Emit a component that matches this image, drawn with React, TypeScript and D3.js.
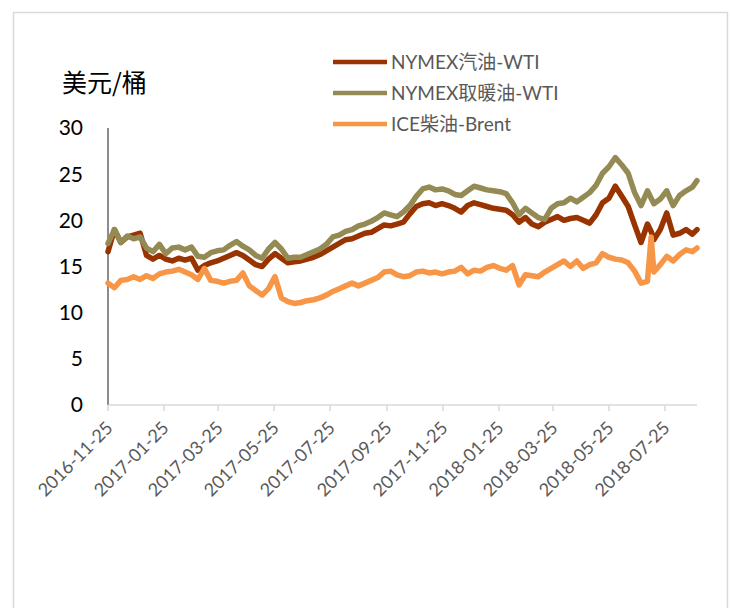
import React from 'react';
import * as d3 from 'd3';

const width = 730;
const height = 608;
const margin = { top: 128, right: 33, bottom: 203, left: 108 };

const dates = [
  '2016-11-25', '2016-12-02', '2016-12-09', '2016-12-16', '2016-12-23', '2016-12-30',
  '2017-01-06', '2017-01-13', '2017-01-20', '2017-01-27', '2017-02-03', '2017-02-10',
  '2017-02-17', '2017-02-24', '2017-03-03', '2017-03-10', '2017-03-17', '2017-03-24',
  '2017-03-31', '2017-04-07', '2017-04-14', '2017-04-21', '2017-04-28', '2017-05-05',
  '2017-05-12', '2017-05-19', '2017-05-26', '2017-06-02', '2017-06-09', '2017-06-16',
  '2017-06-23', '2017-06-30', '2017-07-07', '2017-07-14', '2017-07-21', '2017-07-28',
  '2017-08-04', '2017-08-11', '2017-08-18', '2017-08-25', '2017-09-01', '2017-09-08',
  '2017-09-15', '2017-09-22', '2017-09-29', '2017-10-06', '2017-10-13', '2017-10-20',
  '2017-10-27', '2017-11-03', '2017-11-10', '2017-11-17', '2017-11-24', '2017-12-01',
  '2017-12-08', '2017-12-15', '2017-12-22', '2017-12-29', '2018-01-05', '2018-01-12',
  '2018-01-19', '2018-01-26', '2018-02-02', '2018-02-09', '2018-02-16', '2018-02-23',
  '2018-03-02', '2018-03-09', '2018-03-16', '2018-03-23', '2018-03-30', '2018-04-06',
  '2018-04-13', '2018-04-20', '2018-04-27', '2018-05-04', '2018-05-11', '2018-05-18',
  '2018-05-25', '2018-06-01', '2018-06-08', '2018-06-15', '2018-06-22', '2018-06-29',
  '2018-07-06', '2018-07-10', '2018-07-13', '2018-07-20', '2018-07-27', '2018-08-03',
  '2018-08-10', '2018-08-17', '2018-08-24', '2018-08-29',
];

// NYMEX汽油-WTI
const gasoline = [
  16.6, 19.0, 17.6, 18.2, 18.4, 18.6, 16.2, 15.8, 16.2, 15.8, 15.6, 15.9,
  15.7, 15.9, 14.6, 15.1, 15.4, 15.6, 15.9, 16.2, 16.5, 16.2, 15.7, 15.2,
  15.0, 15.8, 16.4, 15.9, 15.4, 15.5, 15.6, 15.8, 16.0, 16.3, 16.7, 17.1,
  17.5, 17.9, 18.0, 18.3, 18.6, 18.7, 19.1, 19.5, 19.4, 19.6, 19.8, 20.7,
  21.5, 21.8, 21.9, 21.6, 21.8, 21.6, 21.3, 20.9, 21.6, 21.9, 21.7, 21.5,
  21.3, 21.2, 21.1, 20.6, 19.8, 20.3, 19.6, 19.3, 19.8, 20.1, 20.4, 20.0,
  20.2, 20.3, 20.0, 19.7, 20.6, 21.9, 22.4, 23.7, 22.6, 21.5, 19.5, 17.6,
  19.6, 18.8, 17.9, 19.0, 20.8, 18.4, 18.6, 19.0, 18.5, 19.0,
];

// NYMEX取暖油-WTI
const heatingOil = [
  17.5, 19.0, 17.6, 18.3, 18.0, 18.2, 17.0, 16.6, 17.4, 16.4, 17.0, 17.1,
  16.8, 17.1, 16.1, 16.0, 16.5, 16.7, 16.8, 17.3, 17.7, 17.2, 16.8, 16.2,
  15.9, 16.9, 17.6, 16.9, 15.9, 16.0, 16.0, 16.3, 16.6, 16.9, 17.4, 18.2,
  18.4, 18.8, 19.0, 19.4, 19.6, 19.9, 20.3, 20.8, 20.6, 20.4, 20.9, 21.6,
  22.6, 23.4, 23.6, 23.3, 23.4, 23.2, 22.8, 22.7, 23.2, 23.7, 23.5, 23.3,
  23.2, 23.1, 22.9, 21.9, 20.6, 21.3, 20.8, 20.3, 20.1, 21.3, 21.8, 21.9,
  22.4, 22.0, 22.5, 23.0, 23.8, 25.1, 25.8, 26.8, 26.0, 25.1, 23.0, 21.6,
  23.2, 22.4, 21.8, 22.3, 23.2, 21.6, 22.7, 23.2, 23.6, 24.3,
];

// ICE柴油-Brent
const iceDiesel = [
  13.2, 12.7, 13.5, 13.6, 13.9, 13.6, 14.0, 13.7, 14.2, 14.4, 14.5, 14.7,
  14.4, 14.1, 13.6, 14.8, 13.5, 13.4, 13.2, 13.4, 13.5, 14.3, 12.9, 12.4,
  11.9, 12.6, 13.9, 11.6, 11.2, 11.0, 11.1, 11.3, 11.4, 11.6, 11.9, 12.3,
  12.6, 12.9, 13.2, 12.9, 13.2, 13.5, 13.8, 14.4, 14.5, 14.1, 13.9, 14.0,
  14.4, 14.5, 14.3, 14.4, 14.2, 14.4, 14.5, 14.9, 14.2, 14.6, 14.5, 14.9,
  15.1, 14.8, 14.6, 15.1, 13.0, 14.1, 14.0, 13.9, 14.4, 14.8, 15.2, 15.6,
  15.0, 15.6, 14.8, 15.2, 15.4, 16.4, 16.0, 15.8, 15.7, 15.4, 14.5, 13.2,
  13.4, 18.2, 14.4, 15.2, 16.1, 15.6, 16.3, 16.8, 16.6, 17.0,
];

const seriesNames = ['NYMEX汽油-WTI', 'NYMEX取暖油-WTI', 'ICE柴油-Brent'];
const seriesColors = ['#993300', '#948A54', '#F79646'];
const yTicks = [0, 5, 10, 15, 20, 25, 30];
const xTickLabels = [
  '2016-11-25', '2017-01-25', '2017-03-25', '2017-05-25', '2017-07-25', '2017-09-25',
  '2017-11-25', '2018-01-25', '2018-03-25', '2018-05-25', '2018-07-25',
];

const latin = 'Lato, "Noto Sans CJK SC", sans-serif';

export default function App() {
  const parse = d3.utcParse('%Y-%m-%d');
  const x = d3.scaleUtc()
    .domain([parse(dates[0])!, parse(dates[dates.length - 1])!])
    .range([margin.left, width - margin.right]);
  const y = d3.scaleLinear()
    .domain([0, 30])
    .range([height - margin.bottom, margin.top]);

  const allSeries = [gasoline, heatingOil, iceDiesel];
  const line = d3.line<number>()
    .x((d, i) => x(parse(dates[i])!))
    .y((d) => y(d))
    .curve(d3.curveLinear);

  const y0 = y(0);

  return (
    <svg width={width} height={height} style={{ position: 'absolute', left: 0, top: 0 }}>
      <rect x={0} y={0} width={width} height={height} fill="#fff" />
      <rect x={13.5} y={12.5} width={714} height={640} fill="none" stroke="#d9d9d9" strokeWidth={1.5} />

      <text x={62} y={92} fontFamily='"Noto Sans CJK SC", sans-serif' fontSize={25} fill="#000">美元/桶</text>

      {/* y axis */}
      <line x1={margin.left} x2={margin.left} y1={y(30)} y2={y0} stroke="#8c8c8c" strokeWidth={2} />
      {yTicks.map((t) => (
        <text key={t} x={83} y={y(t)} dy="0.35em" textAnchor="end" fontFamily={latin} fontSize={21} fill="#000">
          {t}
        </text>
      ))}

      {/* x axis */}
      <line x1={margin.left} x2={width - margin.right} y1={y0} y2={y0} stroke="#d9d9d9" strokeWidth={1.5} />
      {xTickLabels.map((t) => {
        const tx = x(parse(t)!);
        return (
          <g key={t}>
            <line x1={tx} x2={tx} y1={y0} y2={y0 + 6} stroke="#d9d9d9" strokeWidth={1.5} />
            <text
              transform={`translate(${tx + 6},${y0 + 24}) rotate(-45)`}
              textAnchor="end"
              fontFamily={latin}
              fontSize={18}
              fill="#595959"
            >
              {t}
            </text>
          </g>
        );
      })}

      {/* series */}
      {allSeries.map((s, i) => (
        <path
          key={seriesNames[i]}
          d={line(s) ?? ''}
          fill="none"
          stroke={seriesColors[i]}
          strokeWidth={5.5}
          strokeLinejoin="round"
          strokeLinecap="round"
        />
      ))}

      {/* legend */}
      {seriesNames.map((n, i) => (
        <g key={n} transform={`translate(333,${62 + i * 31})`}>
          <line x1={0} x2={54} y1={0} y2={0} stroke={seriesColors[i]} strokeWidth={4.5} />
          <text x={58} y={0} dy="0.35em" fontFamily={latin} fontSize={19} fill="#595959">{n}</text>
        </g>
      ))}
    </svg>
  );
}
